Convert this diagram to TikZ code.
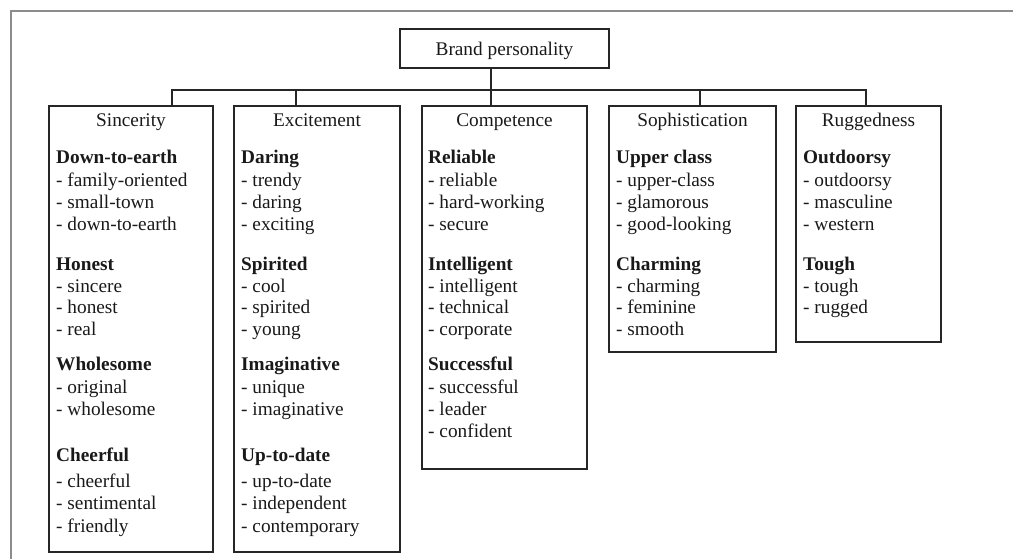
\documentclass[tikz,border=0pt]{standalone}
\usepackage{fontspec}
\setmainfont{Liberation Serif}
\begin{document}
\begin{tikzpicture}[x=1pt,y=-1pt]
\tikzset{
  box/.style={draw=black!85,line width=1.1pt,inner sep=0pt},
  txt/.style={anchor=base west,inner sep=0pt,font=\fontsize{19.3}{22}\selectfont,text=black!90},
  grphead/.style={anchor=base west,inner sep=0pt,font=\fontsize{19.3}{22}\selectfont\bfseries,text=black!90},
  ttl/.style={anchor=base,inner sep=0pt,font=\fontsize{19.3}{22}\selectfont,text=black!90},
  link/.style={draw=black!85,line width=1.1pt},
  outerframe/.style={draw=black!45,line width=1.5pt}
}
\useasboundingbox (0,0) rectangle (1013,558);
\draw[outerframe] (11,560) -- (11,11) -- (1015,11);

% top box
\node[box,minimum width=209pt,minimum height=39pt,text height=17pt,text depth=4pt,
      font=\fontsize{19.3}{22}\selectfont,text=black!90] (brand) at (504.5,48.5) {Brand personality};

% category boxes
\node[box,minimum width=164pt,minimum height=446pt] (sinc) at (131,329) {};
\node[box,minimum width=166pt,minimum height=446pt] (exci) at (317,329) {};
\node[box,minimum width=165pt,minimum height=363pt] (comp) at (504.5,287.5) {};
\node[box,minimum width=167pt,minimum height=246pt] (soph) at (692.5,229) {};
\node[box,minimum width=145pt,minimum height=236pt] (rugg) at (868.5,224) {};

% connectors
\coordinate (bus) at (491,90);
\draw[link] ([xshift=-13.5pt]brand.south) -- (bus);
\draw[link] (bus) -| ([xshift=41pt]sinc.north);
\draw[link] (bus) -| ([xshift=-21pt]exci.north);
\draw[link] (bus) -- ([xshift=-13.5pt]comp.north);
\draw[link] (bus) -| ([xshift=7.5pt]soph.north);
\draw[link] (bus) -| ([xshift=-2.5pt]rugg.north);

% titles
\node[ttl] (sinct) at (131,126) {Sincerity};
\node[ttl] (excit) at (317,126) {Excitement};
\node[ttl] (compt) at (504.5,126) {Competence};
\node[ttl] (sopht) at (692.5,126) {Sophistication};
\node[ttl] (ruggt) at (868.5,126) {Ruggedness};

% Sincerity
\foreach \yy/\lbl [count=\i] in {163/Down-to-earth,270/Honest,370/Wholesome,461/Cheerful}
  \node[grphead] (sh\i) at (56,\yy) {\lbl};
\foreach \yy/\lbl [count=\i] in {186/family-oriented,208/small-town,230/down-to-earth,
   292/sincere,313/honest,335/real,393/original,415/wholesome,
   487/cheerful,509/sentimental,532/friendly}
  \node[txt] (si\i) at (56,\yy) {- \lbl};

% Excitement
\foreach \yy/\lbl [count=\i] in {163/Daring,270/Spirited,370/Imaginative,461/Up-to-date}
  \node[grphead] (eh\i) at (241,\yy) {\lbl};
\foreach \yy/\lbl [count=\i] in {186/trendy,208/daring,230/exciting,
   292/cool,313/spirited,335/young,393/unique,415/imaginative,
   487/up-to-date,509/independent,532/contemporary}
  \node[txt] (ei\i) at (241,\yy) {- \lbl};

% Competence
\foreach \yy/\lbl [count=\i] in {163/Reliable,270/Intelligent,370/Successful}
  \node[grphead] (ch\i) at (428,\yy) {\lbl};
\foreach \yy/\lbl [count=\i] in {186/reliable,208/hard-working,230/secure,
   292/intelligent,313/technical,335/corporate,393/successful,415/leader,437/confident}
  \node[txt] (ci\i) at (428,\yy) {- \lbl};

% Sophistication
\foreach \yy/\lbl [count=\i] in {163/Upper class,270/Charming}
  \node[grphead] (ph\i) at (616,\yy) {\lbl};
\foreach \yy/\lbl [count=\i] in {186/upper-class,208/glamorous,230/good-looking,
   292/charming,313/feminine,335/smooth}
  \node[txt] (pi\i) at (616,\yy) {- \lbl};

% Ruggedness
\foreach \yy/\lbl [count=\i] in {163/Outdoorsy,270/Tough}
  \node[grphead] (rh\i) at (803,\yy) {\lbl};
\foreach \yy/\lbl [count=\i] in {186/outdoorsy,208/masculine,230/western,
   292/tough,313/rugged}
  \node[txt] (ri\i) at (803,\yy) {- \lbl};
\end{tikzpicture}
\end{document}
